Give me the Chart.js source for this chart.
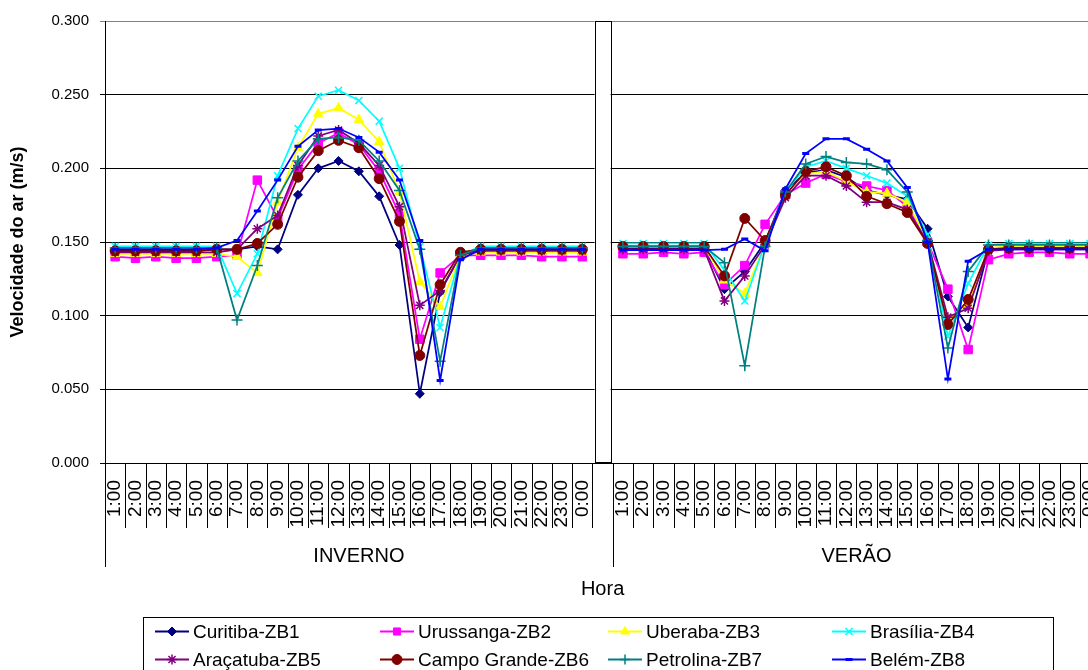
<!DOCTYPE html>
<html>
<head>
<meta charset="utf-8">
<script src="https://cdn.jsdelivr.net/npm/chart.js@4.4.1/dist/chart.umd.min.js"></script>
<style>
  html, body { margin: 0; padding: 0; background: #fff; overflow: hidden; }
  #wrap { position: absolute; left: 0; top: 0; width: 1130px; height: 670px; }
</style>
</head>
<body>
<div id="wrap"><canvas id="c"></canvas></div>
<script>
// Hourly air velocity (m/s) for eight cities, winter (INVERNO) and summer (VERÃO)
const hours = ['1:00','2:00','3:00','4:00','5:00','6:00','7:00','8:00','9:00','10:00','11:00','12:00',
               '13:00','14:00','15:00','16:00','17:00','18:00','19:00','20:00','21:00','22:00','23:00','0:00'];
const seasons = ['INVERNO', 'VERÃO'];
const yTicks = [0, 0.05, 0.10, 0.15, 0.20, 0.25, 0.30];

const curitibaInv   = [0.144,0.144,0.144,0.144,0.144,0.145,0.145,0.147,0.145,0.182,0.200,0.205,0.198,0.181,0.148,0.047,0.116,0.141,0.145,0.145,0.145,0.145,0.145,0.145];
const curitibaVer   = [0.1455,0.1455,0.1455,0.1455,0.1455,0.118,0.130,0.150,0.185,0.197,0.199,0.194,0.185,0.182,0.179,0.159,0.113,0.092,0.145,0.1455,0.1455,0.1455,0.1455,0.1455];
const urussangaInv  = [0.140,0.139,0.140,0.139,0.139,0.140,0.141,0.192,0.166,0.199,0.217,0.224,0.216,0.198,0.169,0.084,0.129,0.141,0.141,0.141,0.141,0.140,0.140,0.140];
const urussangaVer  = [0.142,0.142,0.143,0.142,0.143,0.121,0.134,0.162,0.182,0.190,0.196,0.191,0.188,0.185,0.174,0.150,0.118,0.077,0.138,0.142,0.143,0.143,0.142,0.142];
const uberabaInv    = [0.142,0.142,0.142,0.142,0.142,0.142,0.140,0.129,0.177,0.214,0.237,0.241,0.233,0.218,0.184,0.123,0.106,0.141,0.143,0.143,0.143,0.143,0.143,0.143];
const uberabaVer    = [0.147,0.147,0.147,0.147,0.147,0.124,0.115,0.149,0.183,0.196,0.198,0.191,0.184,0.183,0.177,0.151,0.097,0.107,0.146,0.147,0.147,0.147,0.147,0.147];
const brasiliaInv   = [0.147,0.147,0.147,0.147,0.147,0.147,0.115,0.142,0.195,0.227,0.249,0.253,0.246,0.232,0.200,0.147,0.092,0.141,0.147,0.147,0.147,0.147,0.147,0.147];
const brasiliaVer   = [0.149,0.149,0.149,0.149,0.149,0.131,0.110,0.149,0.184,0.201,0.205,0.200,0.195,0.190,0.181,0.155,0.086,0.122,0.148,0.149,0.149,0.149,0.149,0.149];
const aracatubaInv  = [0.143,0.143,0.143,0.143,0.143,0.143,0.145,0.159,0.168,0.202,0.222,0.226,0.217,0.202,0.174,0.107,0.117,0.141,0.144,0.144,0.144,0.144,0.144,0.144];
const aracatubaVer  = [0.145,0.145,0.145,0.145,0.145,0.110,0.127,0.148,0.180,0.195,0.195,0.188,0.177,0.177,0.172,0.150,0.099,0.105,0.144,0.145,0.145,0.145,0.145,0.145];
const campoGrandeInv= [0.144,0.144,0.144,0.144,0.144,0.145,0.145,0.149,0.162,0.194,0.212,0.219,0.214,0.193,0.164,0.073,0.121,0.143,0.145,0.145,0.145,0.145,0.145,0.145];
const campoGrandeVer= [0.147,0.147,0.147,0.147,0.147,0.127,0.166,0.151,0.182,0.198,0.201,0.195,0.181,0.176,0.170,0.149,0.094,0.111,0.145,0.146,0.146,0.146,0.146,0.146];
const petrolinaInv  = [0.146,0.146,0.146,0.146,0.146,0.146,0.097,0.134,0.180,0.205,0.220,0.221,0.219,0.205,0.185,0.145,0.069,0.141,0.146,0.146,0.146,0.146,0.146,0.146];
const petrolinaVer  = [0.147,0.147,0.147,0.147,0.147,0.136,0.066,0.147,0.184,0.203,0.208,0.204,0.203,0.199,0.184,0.151,0.078,0.130,0.148,0.148,0.148,0.148,0.148,0.148];
const belemInv      = [0.145,0.145,0.145,0.145,0.145,0.146,0.151,0.171,0.192,0.215,0.226,0.227,0.221,0.211,0.192,0.151,0.056,0.138,0.145,0.145,0.145,0.145,0.145,0.145];
const belemVer      = [0.1445,0.1445,0.1445,0.1445,0.1445,0.145,0.152,0.144,0.186,0.210,0.220,0.220,0.213,0.205,0.187,0.150,0.057,0.137,0.145,0.145,0.145,0.145,0.145,0.145];

const seriesNames = ['Curitiba-ZB1','Urussanga-ZB2','Uberaba-ZB3','Brasília-ZB4',
                     'Araçatuba-ZB5','Campo Grande-ZB6','Petrolina-ZB7','Belém-ZB8'];
const winterValues = [curitibaInv, urussangaInv, uberabaInv, brasiliaInv, aracatubaInv, campoGrandeInv, petrolinaInv, belemInv];
const summerValues = [curitibaVer, urussangaVer, uberabaVer, brasiliaVer, aracatubaVer, campoGrandeVer, petrolinaVer, belemVer];

// Styling per series
const colors  = ['#000080','#FF00FF','#FFFF00','#00FFFF','#800080','#800000','#008080','#0000FF'];
const markers = ['rectRot','rect','triangle','crossRot','star','circle','cross','line'];
const radii   = [4.5, 6, 5.5, 5, 5, 5, 5.5, 3.5];
const markerBorder = [1, 1, 1, 1.5, 1.5, 1, 1.5, 3];

// One empty category separates the two seasons
const labels = [...hours, '', ...hours];
const GAP_INDEX = hours.length;
const FONT = "'Liberation Sans', Arial, sans-serif";

const datasets = seriesNames.map((name, i) => ({
  label: name,
  data: [...winterValues[i], null, ...summerValues[i]],
  borderColor: colors[i],
  backgroundColor: colors[i],
  borderWidth: 1.75,
  pointStyle: markers[i],
  pointRadius: radii[i],
  pointHoverRadius: radii[i],
  pointBorderColor: colors[i],
  pointBackgroundColor: colors[i],
  pointBorderWidth: markerBorder[i],
  tension: 0,
  spanGaps: false,
  order: seriesNames.length - i
}));

function drawMarker(ctx, style, x, y, r, color, bw) {
  if (Chart.helpers && Chart.helpers.drawPoint) {
    ctx.save();
    ctx.fillStyle = color; ctx.strokeStyle = color; ctx.lineWidth = bw;
    Chart.helpers.drawPoint(ctx, { pointStyle: style, radius: r, borderWidth: bw, rotation: 0 }, x, y);
    ctx.restore();
  }
}

const decor = {
  id: 'decor',
  beforeDatasetsDraw(chart) {
    const ctx = chart.ctx, xs = chart.scales.x, a = chart.chartArea;
    const cx = xs.getPixelForValue(GAP_INDEX);
    ctx.save();
    ctx.fillStyle = '#fff';
    ctx.fillRect(cx - 8, a.top, 16, a.bottom - a.top);
    ctx.strokeStyle = '#000'; ctx.lineWidth = 1;
    ctx.strokeRect(Math.round(cx - 8) + 0.5, a.top + 0.5, 16, a.bottom - a.top - 1);
    ctx.restore();
  },
  afterDraw(chart) {
    const ctx = chart.ctx, xs = chart.scales.x, a = chart.chartArea;
    const n = labels.length, w = (xs.right - xs.left) / n;
    ctx.save();
    ctx.strokeStyle = '#000'; ctx.lineWidth = 1;
    // category separators and season boundaries
    for (let k = 0; k <= n; k++) {
      const px = Math.round(xs.left + k * w) + 0.5;
      const long = (k === 0 || k === GAP_INDEX + 1 || k === n);
      ctx.beginPath();
      ctx.moveTo(px, a.bottom);
      ctx.lineTo(px, long ? 567 : 528);
      ctx.stroke();
    }
    ctx.fillStyle = '#000';
    ctx.textAlign = 'center'; ctx.textBaseline = 'alphabetic';
    ctx.font = '20px ' + FONT;
    const g1 = xs.left + (GAP_INDEX + 1) * w / 2;
    const g2 = xs.left + (GAP_INDEX + 1) * w + hours.length * w / 2;
    ctx.fillText(seasons[0], g1, 561.5);
    ctx.fillText(seasons[1], g2, 561.5);
    // axis titles
    ctx.fillText('Hora', (a.left + a.right) / 2, 594.5);
    ctx.save();
    ctx.translate(18, (a.top + a.bottom) / 2);
    ctx.rotate(-Math.PI / 2);
    ctx.font = 'bold 18px ' + FONT;
    ctx.textBaseline = 'middle';
    ctx.fillText('Velocidade do ar (m/s)', 0, 0);
    ctx.restore();
    // legend
    ctx.strokeRect(143.5, 617.5, 910, 90);
    const colText = [193, 418, 646, 870];
    const rowBase = [638, 666];
    ctx.font = '19px ' + FONT;
    ctx.textAlign = 'left';
    seriesNames.forEach((name, i) => {
      const col = i % 4, row = Math.floor(i / 4);
      const tx = colText[col], by = rowBase[row], my = by - 6.5;
      ctx.strokeStyle = colors[i]; ctx.lineWidth = 2;
      ctx.beginPath(); ctx.moveTo(tx - 38, my); ctx.lineTo(tx - 4, my); ctx.stroke();
      drawMarker(ctx, markers[i], tx - 21, my, Math.min(radii[i], 5), colors[i], markerBorder[i]);
      ctx.fillStyle = '#000';
      ctx.fillText(name, tx, by);
    });
    ctx.restore();
  }
};

new Chart(document.getElementById('c'), {
  type: 'line',
  data: { labels, datasets },
  options: {
    responsive: true,
    maintainAspectRatio: false,
    animation: false,
    events: [],
    layout: { padding: { top: 21, right: 14, bottom: 0, left: 0 } },
    plugins: { legend: { display: false }, tooltip: { enabled: false } },
    scales: {
      x: {
        type: 'category',
        offset: true,
        grid: { display: false, drawTicks: false, tickLength: 0 },
        border: { display: true, color: '#000', width: 1 },
        ticks: {
          autoSkip: false, maxRotation: 90, minRotation: 90, padding: 17,
          color: '#000', font: { family: FONT, size: 19 }
        },
        afterFit(s) { s.height = 207; }
      },
      y: {
        min: 0, max: 0.3,
        afterBuildTicks(s) { s.ticks = yTicks.map(v => ({ value: v })); },
        ticks: {
          padding: 11, color: '#000', font: { family: FONT, size: 15 },
          callback: v => Number(v).toFixed(3)
        },
        grid: {
          color: c => (c.tick && c.tick.value >= 0.299) ? '#808080' : '#000',
          lineWidth: 1, drawTicks: true, tickLength: 5
        },
        border: { display: true, color: '#000', width: 1 },
        afterFit(s) { s.width = 105; }
      }
    }
  },
  plugins: [decor]
});
</script>
</body>
</html>
